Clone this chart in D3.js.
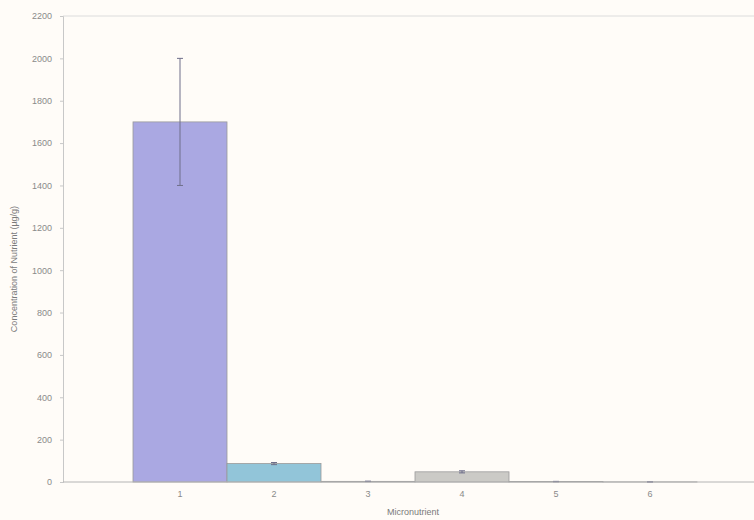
<!DOCTYPE html>
<html>
<head>
<meta charset="utf-8">
<script src="https://cdn.jsdelivr.net/npm/d3@7"></script>
<style>
  body { margin: 0; background: #fffcf8; }
  svg { display: block; }
  .tick text { fill: #8a8a8a; font-family: Arial, "Liberation Sans", sans-serif; font-size: 9px; }
</style>
</head>
<body>
<script>
// chart data
var categories = ["1", "2", "3", "4", "5", "6"];
var values = [1700, 87, 3, 48, 2, 0.5];
var errors = [300, 5, 1, 5, 1, 0];
var colors = ["#aaa8e2", "#92c5d9", "#b8a89a", "#cbcac6", "#c9b9b0", "#d8d8d8"];
var yTicks = [0, 200, 400, 600, 800, 1000, 1200, 1400, 1600, 1800, 2000, 2200];

var svgWidth = 754, svgHeight = 520;
var axisLeft = 63, axisRight = 754;
var plotTop = 16, plotBottom = 482;

var svg = d3.select("body").append("svg")
  .attr("width", svgWidth)
  .attr("height", svgHeight);

svg.append("rect")
  .attr("width", svgWidth).attr("height", svgHeight)
  .attr("fill", "#fffcf8");

var xScale = d3.scaleBand()
  .domain(categories)
  .range([133, 133 + 6 * 94])
  .padding(0);

var yScale = d3.scaleLinear()
  .domain([0, 2200])
  .range([plotBottom, plotTop]);

// top frame line
svg.append("line")
  .attr("x1", axisLeft).attr("x2", axisRight)
  .attr("y1", plotTop).attr("y2", plotTop)
  .attr("stroke", "#dcdcdc");

// y axis
var yAxis = d3.axisLeft(yScale).tickValues(yTicks).tickFormat(d3.format("d")).tickSize(3).tickPadding(8);
var yg = svg.append("g")
  .attr("transform", `translate(${axisLeft},0)`)
  .call(yAxis);
yg.select(".domain").attr("stroke", "#c8c8c8");
yg.selectAll(".tick line").attr("stroke", "#c8c8c8");

// bars
svg.selectAll(".bar")
  .data(values)
  .enter().append("rect")
  .attr("class", "bar")
  .attr("x", (d, i) => xScale(categories[i]))
  .attr("width", xScale.bandwidth())
  .attr("y", d => yScale(d))
  .attr("height", d => plotBottom - yScale(d))
  .attr("fill", (d, i) => colors[i])
  .attr("stroke", "#9a9a9a")
  .attr("stroke-width", 0.8);

// error bars
var errs = svg.selectAll(".err")
  .data(values)
  .enter().append("g")
  .attr("class", "err");
errs.append("line")
  .attr("x1", (d, i) => xScale(categories[i]) + xScale.bandwidth() / 2)
  .attr("x2", (d, i) => xScale(categories[i]) + xScale.bandwidth() / 2)
  .attr("y1", (d, i) => yScale(d + errors[i]))
  .attr("y2", (d, i) => yScale(Math.max(0, d - errors[i])))
  .attr("stroke", "#6f6f8a")
  .attr("stroke-width", 1);
errs.append("line")
  .attr("x1", (d, i) => xScale(categories[i]) + xScale.bandwidth() / 2 - 3)
  .attr("x2", (d, i) => xScale(categories[i]) + xScale.bandwidth() / 2 + 3)
  .attr("y1", (d, i) => yScale(d + errors[i]))
  .attr("y2", (d, i) => yScale(d + errors[i]))
  .attr("stroke", "#6f6f8a");
errs.append("line")
  .attr("x1", (d, i) => xScale(categories[i]) + xScale.bandwidth() / 2 - 3)
  .attr("x2", (d, i) => xScale(categories[i]) + xScale.bandwidth() / 2 + 3)
  .attr("y1", (d, i) => yScale(Math.max(0, d - errors[i])))
  .attr("y2", (d, i) => yScale(Math.max(0, d - errors[i])))
  .attr("stroke", "#6f6f8a");

// x axis
var xAxis = d3.axisBottom(xScale).tickSize(0).tickPadding(9);
var xg = svg.append("g")
  .attr("transform", `translate(0,${plotBottom})`)
  .call(xAxis);
xg.select(".domain").remove();
svg.append("line")
  .attr("x1", axisLeft).attr("x2", axisRight)
  .attr("y1", plotBottom).attr("y2", plotBottom)
  .attr("stroke", "#b4b4b4");

// axis titles
svg.append("text")
  .attr("x", (133 + 133 + 6 * 94) / 2 - 2)
  .attr("y", 515)
  .attr("text-anchor", "middle")
  .attr("fill", "#7a7a7a")
  .style("font-family", "Arial, 'Liberation Sans', sans-serif")
  .style("font-size", "9px")
  .text("Micronutrient");

svg.append("text")
  .attr("transform", `translate(17,${(plotTop + plotBottom) / 2 + 20}) rotate(-90)`)
  .attr("text-anchor", "middle")
  .attr("fill", "#7a7a7a")
  .style("font-family", "Arial, 'Liberation Sans', sans-serif")
  .style("font-size", "9px")
  .text("Concentration of Nutrient (µg/g)");
</script>
</body>
</html>
